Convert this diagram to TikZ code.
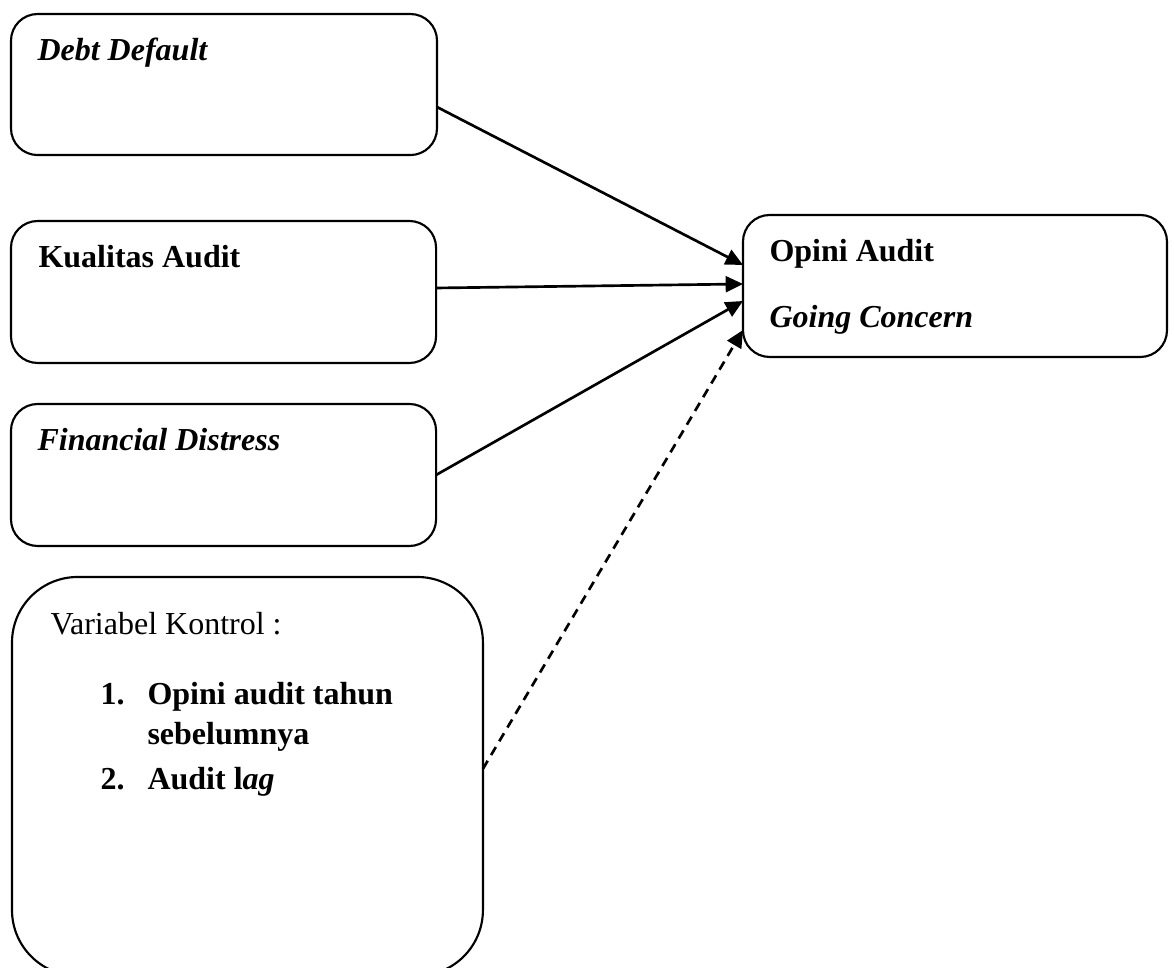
\documentclass[tikz,border=0pt]{standalone}
\usepackage{fontspec}
\setmainfont{Liberation Serif}
\usetikzlibrary{arrows.meta,calc}

\begin{document}
\begin{tikzpicture}[x=0.375pt, y=-0.375pt,
		box/.style = {draw, line width=.8pt, rounded corners=10pt, rectangle, anchor=north west, inner sep=0pt, outer sep=0pt},
		lbl/.style = {anchor=base west, inner sep=0pt, font=\fontsize{12}{14}\selectfont},
		arr/.style = {line width=1pt, -{Triangle[length=6.5pt,width=6pt]}}]
	\useasboundingbox (0,0) rectangle (1174,968);

	% variabel independen
	\node [box, minimum width=159.75pt, minimum height=52.9pt] (dd) at (11,14) {};
	\node [box, minimum width=159.4pt, minimum height=53.25pt] (ka) at (11,221) {};
	\node [box, minimum width=159.4pt, minimum height=53.25pt] (fd) at (11,404) {};
	%\node [box] (vk) ...
	\node [box, rounded corners=24.6pt, minimum width=176.6pt, minimum height=149.5pt] (vk) at (12,577) {};
	% variabel dependen
	\node [box, minimum width=159pt, minimum height=53.25pt] (oa) at (743,215) {};

	\node [lbl] (tdd) at (37,61) {\textbf{\textit{Debt Default}}};
	\node [lbl] (tka) at (38,268) {\textbf{Kualitas Audit}};
	\node [lbl] (tfd) at (37,451) {\textbf{\textit{Financial Distress}}};
	\node [lbl] (toa1) at (769,262) {\textbf{Opini Audit}};
	\node [lbl] (toa2) at (769,328) {\textbf{\textit{Going Concern}}};

	\node [lbl] (tvk) at (50,635) {Variabel Kontrol :};
	\node [lbl] (n1) at (100,705) {\textbf{1.}};
	\node [lbl] (k1) at (147,705) {\textbf{Opini audit tahun}};
	\node [lbl] (k1b) at (147,745) {\textbf{sebelumnya}};
	\node [lbl] (n2) at (100,790) {\textbf{2.}};
	\node [lbl] (k2) at (147,790) {\textbf{Audit l\textit{ag}}};

	\draw [arr] ($(dd.east)+(0,22.5)$) -- ($(oa.west)+(0,-21)$); %dd to oa
	\draw [arr] ($(ka.east)+(0,-4)$) -- ($(oa.west)+(0,-2)$); %ka to oa
	\draw [arr] (fd.east) -- ($(oa.west)+(0,15)$); %fd to oa
	\draw [arr, dash pattern=on 3.5pt off 2.5pt] ($(vk.east)+(0,-7.5)$) -- ($(oa.west)+(0,44)$); %vk to oa
\end{tikzpicture}
\end{document}
